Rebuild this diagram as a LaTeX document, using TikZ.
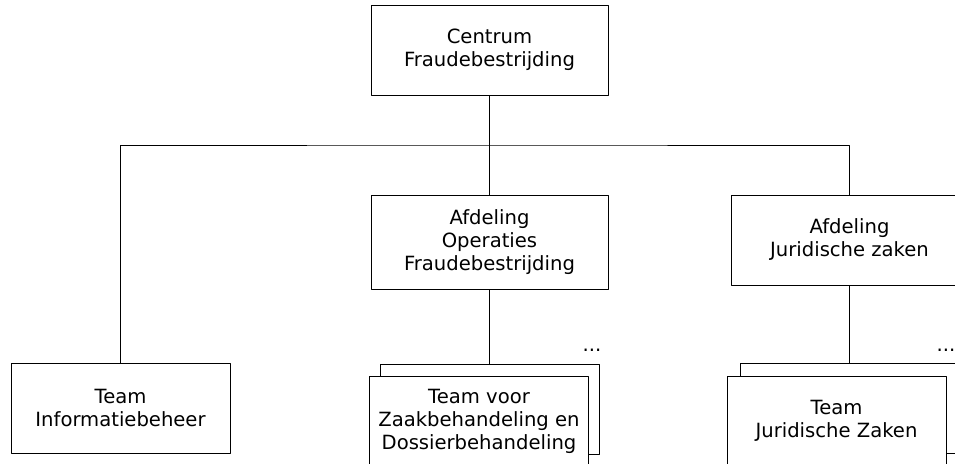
\documentclass[tikz,border=0pt]{standalone}
\usepackage{fontspec}
\setmainfont{DejaVu Sans}
\tikzset{
  unit/.style={draw, fill=white, line width=1pt, align=center, inner sep=0pt, font=\fontsize{19.6}{23}\selectfont},
  bigunit/.style={unit, minimum width=237pt, minimum height=90pt},
  team/.style={unit, minimum width=219pt, minimum height=90pt},
  dots/.style={font=\fontsize{19.6}{23}\selectfont, inner sep=0pt}
}
\begin{document}
\begin{tikzpicture}[x=1pt, y=-1pt, line width=1pt, line join=round]
  \useasboundingbox (0,0) rectangle (955,463);
  \clip (0,0) rectangle (955,463);
  % units
  \node[bigunit] (centrum) at (489.5,50) {Centrum\\Fraudebestrijding};
  \node[bigunit, minimum height=94pt] (afdoper) at (489.5,242) {Afdeling\\Operaties\\Fraudebestrijding};
  \node[bigunit] (afdjur) at (849.5,240) {Afdeling\\Juridische zaken};
  \node[team] (teaminfo) at (120.5,408) {Team\\Informatiebeheer};
  % stacked teams
  \node[team] (zaakback) at (489.5,409) {};
  \node[team] (teamzaak) at (479,421) {Team voor\\Zaakbehandeling en\\Dossierbehandeling};
  \node[team] (jurback) at (849.5,408.5) {};
  \node[team] (teamjur) at (836.5,421) {Team\\Juridische Zaken};
  \node[dots] (zaakdots) at (592,350) {...};
  \node[dots] (jurdots) at (946,350) {...};
  % connectors
  \coordinate (bus) at (489.5,145);
  \draw (centrum) -- (afdoper);
  \draw (teaminfo.north) |- (bus) -| (afdjur.north);
  \draw (afdoper.south) -- (zaakback.north);
  \draw (afdjur.south) -- (jurback.north);
\end{tikzpicture}
\end{document}
